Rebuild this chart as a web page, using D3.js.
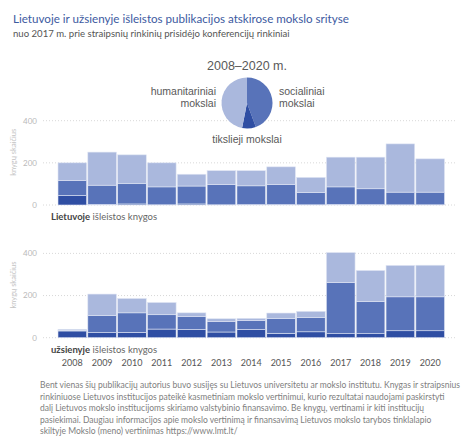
<!DOCTYPE html>
<html>
<head>
<meta charset="utf-8">
<script src="https://cdn.jsdelivr.net/npm/d3@7"></script>
<style>
  body { margin: 0; background: #fff; }
  svg { display: block; }
</style>
</head>
<body>
<svg id="chart" width="474" height="440"></svg>
<script>
  // years on the x axis
  const years = ["2008", "2009", "2010", "2011", "2012", "2013", "2014",
                 "2015", "2016", "2017", "2018", "2019", "2020"];

  // books published in Lithuania
  const ltTikslieji     = [45, 3, 5, 1, 5, 1, 2, 2, 1, 3, 2, 1, 1];
  const ltSocialiniai   = [72, 91, 96, 85, 85, 97, 89, 96, 58, 83, 75, 60, 60];
  const ltHumanitariniai = [83, 157, 137, 114, 56, 65, 72, 83, 72, 141, 150, 229, 158];

  // books published abroad
  const abTikslieji     = [32, 24, 25, 41, 39, 27, 39, 21, 28, 19, 19, 33, 33];
  const abSocialiniai   = [3, 82, 93, 68, 62, 49, 42, 71, 68, 243, 152, 161, 161];
  const abHumanitariniai = [5, 101, 68, 58, 17, 14, 11, 25, 29, 142, 148, 149, 150];

  const yTicks = [0, 200, 400];
  const keys = ["tikslieji", "socialiniai", "humanitariniai"];
  const colors = { tikslieji: "#2f4ea3", socialiniai: "#5873b9", humanitariniai: "#aab8dd" };

  const footnote = [
    "Bent vienas šių publikacijų autorius buvo susijęs su Lietuvos universitetu ar mokslo institutu. Knygas ir straipsnius",
    "rinkiniuose Lietuvos institucijos pateikė kasmetiniam mokslo vertinimui, kurio rezultatai naudojami paskirstyti",
    "dalį Lietuvos mokslo institucijoms skiriamo valstybinio finansavimo. Be knygų, vertinami ir kiti institucijų",
    "pasiekimai. Daugiau informacijos apie mokslo vertinimą ir finansavimą Lietuvos mokslo tarybos tinklalapio",
    "skiltyje Mokslo (meno) vertinimas https://www.lmt.lt/"
  ];

  const svg = d3.select("#chart");
  const uiFont = "Lato, 'Open Sans', sans-serif";
  const pieFont = "'Liberation Sans', Arial, sans-serif";

  // shrink a text's font size so it spans the wanted width
  function fit(sel, width) {
    const len = sel.node().getComputedTextLength();
    const fs = parseFloat(sel.attr("font-size"));
    sel.attr("font-size", (fs * width / len).toFixed(2));
    return fs * width / len;
  }

  // titles
  const title = svg.append("text")
    .attr("x", 13).attr("y", 23)
    .attr("font-family", uiFont).attr("font-size", 12)
    .attr("fill", "#3d5a9f")
    .text("Lietuvoje ir užsienyje išleistos publikacijos atskirose mokslo srityse");
  fit(title, 336);

  const sub = svg.append("text")
    .attr("x", 13).attr("y", 37)
    .attr("font-family", uiFont).attr("font-size", 10)
    .attr("fill", "#555")
    .text("nuo 2017 m. prie straipsnių rinkinių prisidėjo konferencijų rinkiniai");
  fit(sub, 277);

  const x = d3.scaleBand().domain(years).range([58, 444.5]).paddingInner(0.04);

  function panel(y0, tik, soc, hum, label) {
    const y = d3.scaleLinear().domain([0, 400]).range([y0, y0 - 84.3]);
    const rows = years.map((yr, i) => ({
      year: yr, tikslieji: tik[i], socialiniai: soc[i], humanitariniai: hum[i]
    }));
    const series = d3.stack().keys(keys)(rows);

    const g = svg.append("g");

    g.append("g").selectAll("line")
      .data(yTicks)
      .join("line")
      .attr("x1", 43).attr("x2", 456)
      .attr("y1", d => y(d)).attr("y2", d => y(d))
      .attr("stroke", "#d8d8d8")
      .attr("stroke-dasharray", "1,2");

    g.append("g").selectAll("text")
      .data(yTicks)
      .join("text")
      .attr("x", 37).attr("y", d => y(d))
      .attr("dy", "0.35em")
      .attr("text-anchor", "end")
      .attr("font-family", uiFont).attr("font-size", 8)
      .attr("fill", "#b9b9b9")
      .text(d => d);

    g.append("text")
      .attr("transform", `translate(16,${y(250)}) rotate(-90)`)
      .attr("text-anchor", "middle")
      .attr("font-family", uiFont).attr("font-size", 7.5)
      .attr("fill", "#c3c3c3")
      .text("knygų skaičius");

    g.append("g").selectAll("g")
      .data(series)
      .join("g")
      .attr("fill", d => colors[d.key])
      .selectAll("rect")
      .data(d => d)
      .join("rect")
      .attr("x", d => x(d.data.year))
      .attr("width", x.bandwidth())
      .attr("y", d => y(d[1]))
      .attr("height", d => y(d[0]) - y(d[1]))
      .attr("stroke", "#dfe5f3")
      .attr("stroke-width", 0.6);

    const t = g.append("text")
      .attr("x", 51).attr("y", y0 + 15)
      .attr("font-family", uiFont).attr("font-size", 9.5)
      .attr("fill", "#666");
    t.append("tspan").attr("font-weight", "bold").attr("fill", "#444").text(label);
    t.append("tspan").text(" išleistos knygos");
  }

  panel(205, ltTikslieji, ltSocialiniai, ltHumanitariniai, "Lietuvoje");
  panel(337.7, abTikslieji, abSocialiniai, abHumanitariniai, "užsienyje");

  // year labels
  svg.append("g").selectAll("text")
    .data(years)
    .join("text")
    .attr("x", d => x(d) + x.bandwidth() / 2)
    .attr("y", 366)
    .attr("text-anchor", "middle")
    .attr("font-family", uiFont).attr("font-size", 9)
    .attr("fill", "#555")
    .text(d => d);

  // pie of totals 2008-2020
  const pieData = [
    { key: "socialiniai", value: d3.sum(ltSocialiniai) + d3.sum(abSocialiniai) },
    { key: "tikslieji", value: d3.sum(ltTikslieji) + d3.sum(abTikslieji) },
    { key: "humanitariniai", value: d3.sum(ltHumanitariniai) + d3.sum(abHumanitariniai) }
  ];
  const arcs = d3.pie().sort(null).value(d => d.value)(pieData);
  const arc = d3.arc().innerRadius(0).outerRadius(25.5);

  const pg = svg.append("g").attr("transform", "translate(247,103)");
  pg.selectAll("path")
    .data(arcs)
    .join("path")
    .attr("d", arc)
    .attr("fill", d => colors[d.data.key]);

  const pieText = (tx, ty, anchor, str, fs) => svg.append("text")
    .attr("x", tx).attr("y", ty)
    .attr("text-anchor", anchor)
    .attr("font-family", pieFont).attr("font-size", fs)
    .attr("fill", "#595959")
    .text(str);

  pieText(247, 70, "middle", "2008–2020 m.", 12.5);
  pieText(216, 95, "end", "humanitariniai", 10.5);
  pieText(216, 107, "end", "mokslai", 10.5);
  pieText(279, 95, "start", "socialiniai", 10.5);
  pieText(279, 107, "start", "mokslai", 10.5);
  pieText(247, 143, "middle", "tikslieji mokslai", 10.5);

  // footnote
  const fn = svg.append("g");
  const first = fn.append("text")
    .attr("x", 40).attr("y", 388)
    .attr("font-family", uiFont).attr("font-size", 8.5)
    .attr("fill", "#808080")
    .text(footnote[0]);
  const fs = fit(first, 420);
  fn.selectAll("text.rest")
    .data(footnote.slice(1))
    .join("text")
    .attr("class", "rest")
    .attr("x", 40).attr("y", (d, i) => 388 + (i + 1) * 11.6)
    .attr("font-family", uiFont).attr("font-size", fs.toFixed(2))
    .attr("fill", "#808080")
    .text(d => d);
</script>
</body>
</html>
